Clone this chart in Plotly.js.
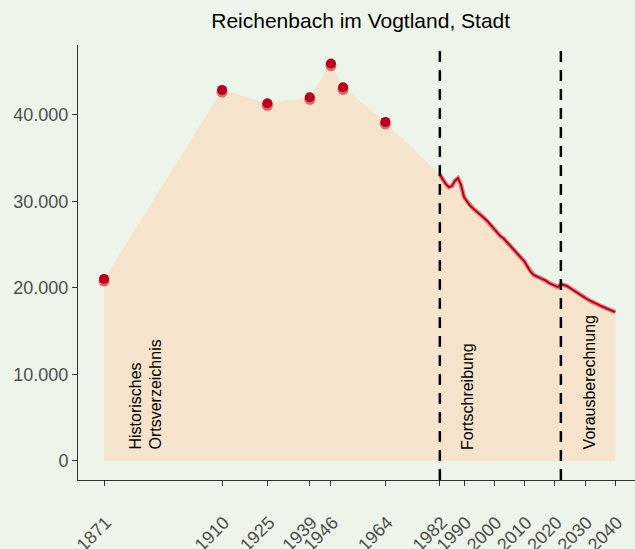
<!DOCTYPE html>
<html>
<head>
<meta charset="utf-8">
<script src="https://cdn.plot.ly/plotly-3.0.1.min.js"></script>
<style>html,body{margin:0;padding:0;background:#edf5eb;}#chart{width:635px;height:549px;}</style>
</head>
<body>
<div id="chart"></div>
<script>
// Historical census points (Historisches Ortsverzeichnis)
const histYears = [1871, 1910, 1925, 1939, 1946, 1950, 1964];
const histPop = [21050, 42900, 41350, 42050, 45950, 43200, 39200];
const histPopAlt = [20800, 42650, 41100, 41800, 45700, 42950, 38950];

// Fortschreibung (annual)
const fortYears = [1982, 1983, 1984, 1985, 1986, 1987, 1988, 1989, 1990, 1991, 1992, 1993, 1994, 1995, 1996, 1997, 1998, 1999, 2000, 2001, 2002, 2003, 2004, 2005, 2006, 2007, 2008, 2009, 2010, 2011, 2012, 2013, 2014, 2015, 2016, 2017, 2018, 2019, 2020, 2021];
const fortPop = [33100, 32500, 32000, 31650, 31800, 32400, 32700, 31900, 30500, 30000, 29500, 29200, 28900, 28650, 28300, 27950, 27650, 27200, 26800, 26350, 26000, 25750, 25350, 24950, 24600, 24200, 23800, 23400, 23050, 22450, 21850, 21500, 21350, 21200, 21050, 20850, 20600, 20450, 20250, 20100];

// Vorausberechnung (projection)
const vorYears = [2022, 2023, 2024, 2025, 2026, 2027, 2028, 2029, 2030, 2031, 2032, 2033, 2034, 2035, 2036, 2037, 2038, 2039, 2040];
const vorPop = [20450, 20350, 20230, 20000, 19750, 19500, 19250, 19050, 18850, 18650, 18450, 18250, 18100, 17950, 17800, 17650, 17500, 17350, 17200];

// Axis ticks
const tickYears = [1871, 1910, 1925, 1939, 1946, 1964, 1982, 1990, 2000, 2010, 2020, 2030, 2040];
const yTickVals = [0, 10000, 20000, 30000, 40000];
const yTickText = ['0', '10.000', '20.000', '30.000', '40.000'];

// Period boundaries and labels
const boundaryYears = [1982, 2022];
const periodLabels = ['Historisches<br>Ortsverzeichnis', 'Fortschreibung', 'Vorausberechnung'];
const periodLabelYears = [1884.9, 1991.3, 2031.6];

const lineYears = fortYears.concat(vorYears);
const linePop = fortPop.concat(vorPop);

const traces = [
  {
    x: histYears.concat(lineYears),
    y: histPop.concat(linePop),
    type: 'scatter', mode: 'none', fill: 'tozeroy',
    fillcolor: '#f5e3cc', hoverinfo: 'skip', showlegend: false
  },
  {
    x: lineYears, y: linePop, type: 'scatter', mode: 'lines',
    line: {color: 'rgba(222,100,100,0.75)', width: 4.5}, showlegend: false
  },
  {
    x: lineYears, y: linePop, type: 'scatter', mode: 'lines',
    line: {color: '#b5001f', width: 2}, showlegend: false
  },
  {
    x: histYears, y: histPopAlt, type: 'scatter', mode: 'markers',
    marker: {color: '#df6868', size: 11}, showlegend: false
  },
  {
    x: histYears, y: histPop, type: 'scatter', mode: 'markers',
    marker: {color: '#b5001f', size: 10}, showlegend: false
  }
];

const shapes = boundaryYears.map(yr => ({
  type: 'line', xref: 'x', yref: 'paper', x0: yr, x1: yr, y0: 0, y1: 1,
  line: {color: '#000000', width: 2.5, dash: '11px,8px'}
}));

const annotations = periodLabels.map((t, i) => ({
  text: t, x: periodLabelYears[i], y: 1100, xref: 'x', yref: 'y',
  textangle: -90, showarrow: false, xanchor: 'center', yanchor: 'bottom',
  align: 'left', font: {family: 'Liberation Sans, Arial, sans-serif', size: 16, color: '#000000'}
}));

const layout = {
  width: 635, height: 549,
  margin: {l: 78, r: 0, t: 45, b: 69},
  paper_bgcolor: '#edf5eb', plot_bgcolor: '#edf5eb',
  font: {family: 'Liberation Sans, Arial, sans-serif'},
  title: {
    text: 'Reichenbach im Vogtland, Stadt',
    font: {size: 21, color: '#000000'},
    x: 0.568, xanchor: 'center', xref: 'container',
    y: 0.963, yanchor: 'middle', yref: 'container'
  },
  xaxis: {
    range: [1862.4, 2046.5], showgrid: false, zeroline: false,
    showline: true, linecolor: '#333333', linewidth: 1,
    ticks: 'outside', ticklen: 5, tickcolor: '#333333', tickwidth: 1,
    tickvals: tickYears, ticktext: tickYears.map(String),
    tickangle: -45, ticklabelstandoff: 19, ticklabelshift: 2,
    tickfont: {size: 18, color: '#4d4d4d'}
  },
  yaxis: {
    range: [-2200, 48090], showgrid: false, zeroline: false,
    showline: true, linecolor: '#333333', linewidth: 1,
    ticks: 'outside', ticklen: 5, tickcolor: '#333333', tickwidth: 1,
    tickvals: yTickVals, ticktext: yTickText,
    tickfont: {size: 18, color: '#4d4d4d'}
  },
  shapes: shapes,
  annotations: annotations,
  showlegend: false
};

Plotly.newPlot('chart', traces, layout, {displayModeBar: false, staticPlot: true});
</script>
</body>
</html>
